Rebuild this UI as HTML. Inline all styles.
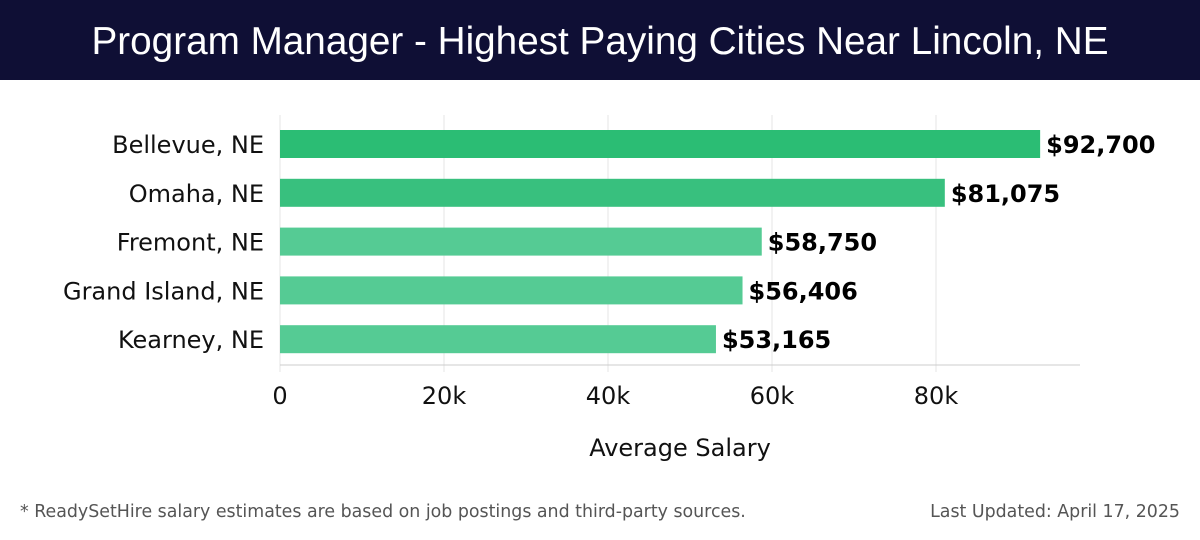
<!DOCTYPE html>
<html><head><meta charset="utf-8"><style>
body{margin:0;width:1200px;height:540px;background:#fff;font-family:"DejaVu Sans","Liberation Sans",sans-serif;overflow:hidden;position:relative}
#hdr{position:absolute;left:0;top:0;width:1200px;height:80px;background:#0f0f35;color:#fff;font-family:"Liberation Sans",sans-serif;font-size:38.7px;text-align:center;line-height:84px}
.foot{position:absolute;top:502px;font-size:17.4px;color:#555}
</style></head><body>
<div id="hdr">Program Manager - Highest Paying Cities Near Lincoln, NE</div>
<svg id="c" width="1200" height="480" style="position:absolute;left:0;top:0"></svg>
<div class="foot" style="left:20px">* ReadySetHire salary estimates are based on job postings and third-party sources.</div>
<div class="foot" style="right:20px">Last Updated: April 17, 2025</div>
<script>
const categories=["Bellevue, NE","Omaha, NE","Fremont, NE","Grand Island, NE","Kearney, NE"];
const values=[92700,81075,58750,56406,53165];
const valueLabels=["$92,700","$81,075","$58,750","$56,406","$53,165"];
const ticks=[0,20000,40000,60000,80000];
const tickLabels=["0","20k","40k","60k","80k"];
const colors=["#2bbd74","#38c07e","#55cb94","#55cb94","#55cb94"];
const svg=document.getElementById('c');const NS="http://www.w3.org/2000/svg";
const x=v=>280+v*656/80000;
const yTop=i=>130+i*48.8;
function mk(t,a,txt){const e=document.createElementNS(NS,t);for(const k in a)e.setAttribute(k,a[k]);if(txt!==undefined)e.textContent=txt;svg.appendChild(e);return e;}
ticks.forEach((t,i)=>{
 const g=mk('line',{x1:x(t),x2:x(t),y1:115,y2:372,stroke:'#e6e6e6','stroke-width':1});
 
 
 const l=mk('text',{x:x(t),y:404,'text-anchor':'middle','font-size':24,fill:'#111'},tickLabels[i]);
 
 
});
const ax=mk('line',{x1:280,x2:1080,y1:365,y2:365,stroke:'#ccc','stroke-width':1});


categories.forEach((c,i)=>{
 const y=yTop(i);
 const b=mk('rect',{x:x(0),y:y,width:x(values[i])-x(0),height:28,fill:colors[i]});
 
 
 const cl=mk('text',{x:264,y:y+23,'text-anchor':'end','font-size':24,fill:'#111'},c);
 
 
 const vl=mk('text',{x:x(values[i])+6,y:y+23,'font-size':24,'font-weight':'bold',fill:'#000'},valueLabels[i]);
 
 
});
const at=mk('text',{x:680,y:456,'text-anchor':'middle','font-size':24,fill:'#111'},'Average Salary');


</script>
</body></html>
